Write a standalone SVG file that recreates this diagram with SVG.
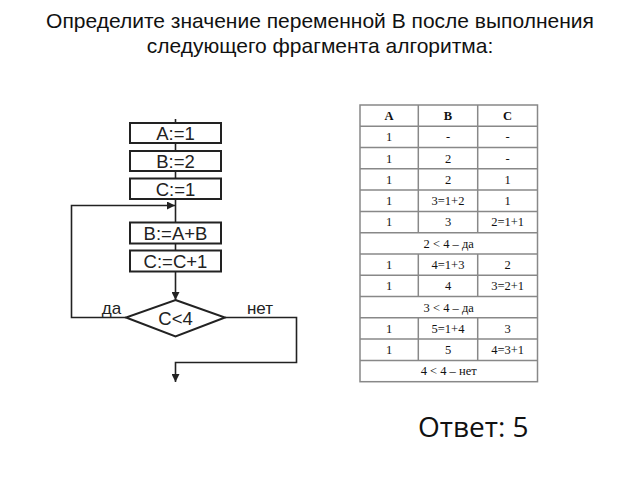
<svg xmlns="http://www.w3.org/2000/svg" width="640" height="480" viewBox="0 0 640 480">
<style>
.title{font-family:"Liberation Sans",Arial,sans-serif;font-size:21px;fill:#111;text-anchor:middle}
.box{fill:#fff;stroke:#222;stroke-width:2}
.ft{font-family:"Liberation Sans",Arial,sans-serif;font-size:18.5px;fill:#222;text-anchor:middle}
.ln{fill:none;stroke:#222;stroke-width:1.6}
.tb{stroke:#888;stroke-width:1.5;fill:none}
.tt{font-family:"Liberation Serif","Times New Roman",serif;font-size:12.5px;fill:#111;text-anchor:middle}
.th{font-weight:bold}
.ans{font-family:"Open Sans","Liberation Sans",sans-serif;font-size:28px;fill:#111}
</style>
<defs>
<marker id="ah" markerWidth="8" markerHeight="8" refX="8" refY="4" orient="auto" markerUnits="userSpaceOnUse">
<path d="M0,0 L8,4 L0,8 Z" fill="#222"/>
</marker>
</defs>
<rect width="640" height="480" fill="#fff"/>
<text class="title" x="320" y="28">Определите значение переменной В после выполнения</text>
<text class="title" x="320" y="53">следующего фрагмента алгоритма:</text>

<g id="connectors">
<line class="ln" x1="175.5" y1="119" x2="175.5" y2="123"/>
<line class="ln" x1="175.5" y1="143" x2="175.5" y2="151"/>
<line class="ln" x1="175.5" y1="171" x2="175.5" y2="178"/>
<line class="ln" x1="175.5" y1="199" x2="175.5" y2="222"/>
<line class="ln" x1="175.5" y1="243" x2="175.5" y2="250"/>
<line class="ln" x1="175.5" y1="272" x2="175.5" y2="300" marker-end="url(#ah)"/>
<polyline class="ln" points="126,317.5 71.5,317.5 71.5,205.5 175,205.5" marker-end="url(#ah)"/>
<polyline class="ln" points="225,317.5 296.5,317.5 296.5,362.5 175.5,362.5 175.5,382" marker-end="url(#ah)"/>
<text class="ft" x="111.5" y="314" style="font-size:17px">да</text>
<text class="ft" x="260" y="314" style="font-size:17px">нет</text>
</g>
<g id="n1"><rect class="box" x="130" y="123" width="91" height="20"/><text class="ft" x="175.5" y="140">A:=1</text></g>
<g id="n2"><rect class="box" x="130" y="151" width="91" height="20"/><text class="ft" x="175.5" y="168">B:=2</text></g>
<g id="n3"><rect class="box" x="130" y="178.5" width="91" height="20.5"/><text class="ft" x="175.5" y="195.5">C:=1</text></g>
<g id="n4"><rect class="box" x="130" y="222.5" width="91" height="21"/><text class="ft" x="175.5" y="240">B:=A+B</text></g>
<g id="n5"><rect class="box" x="130" y="250.5" width="91" height="21"/><text class="ft" x="175.5" y="268">C:=C+1</text></g>
<g id="n6"><polygon class="box" points="175.5,300 225,317.5 175.5,336.5 126,317.5"/><text class="ft" x="175.5" y="324.5">C&lt;4</text></g>

<g id="table">
<rect class="tb" x="360" y="105" width="177.5" height="276.7"/>
<g class="tb">
<line x1="360" y1="126.3" x2="537.5" y2="126.3"/>
<line x1="360" y1="147.6" x2="537.5" y2="147.6"/>
<line x1="360" y1="168.8" x2="537.5" y2="168.8"/>
<line x1="360" y1="190.1" x2="537.5" y2="190.1"/>
<line x1="360" y1="211.4" x2="537.5" y2="211.4"/>
<line x1="360" y1="232.7" x2="537.5" y2="232.7"/>
<line x1="360" y1="254" x2="537.5" y2="254"/>
<line x1="360" y1="275.2" x2="537.5" y2="275.2"/>
<line x1="360" y1="296.5" x2="537.5" y2="296.5"/>
<line x1="360" y1="317.8" x2="537.5" y2="317.8"/>
<line x1="360" y1="339.1" x2="537.5" y2="339.1"/>
<line x1="360" y1="360.4" x2="537.5" y2="360.4"/>
<line x1="418.3" y1="105" x2="418.3" y2="232.7"/>
<line x1="477.7" y1="105" x2="477.7" y2="232.7"/>
<line x1="418.3" y1="254" x2="418.3" y2="296.5"/>
<line x1="477.7" y1="254" x2="477.7" y2="296.5"/>
<line x1="418.3" y1="317.8" x2="418.3" y2="360.4"/>
<line x1="477.7" y1="317.8" x2="477.7" y2="360.4"/>
</g>
<g class="tt">
<text class="th" x="389" y="120">A</text><text class="th" x="448" y="120">B</text><text class="th" x="507.6" y="120">C</text>
<text x="389" y="141.3">1</text><text x="448" y="141.3">-</text><text x="507.6" y="141.3">-</text>
<text x="389" y="162.5">1</text><text x="448" y="162.5">2</text><text x="507.6" y="162.5">-</text>
<text x="389" y="183.8">1</text><text x="448" y="183.8">2</text><text x="507.6" y="183.8">1</text>
<text x="389" y="205.1">1</text><text x="448" y="205.1">3=1+2</text><text x="507.6" y="205.1">1</text>
<text x="389" y="226.4">1</text><text x="448" y="226.4">3</text><text x="507.6" y="226.4">2=1+1</text>
<text x="448.7" y="247.7">2 &lt; 4 – да</text>
<text x="389" y="268.9">1</text><text x="448" y="268.9">4=1+3</text><text x="507.6" y="268.9">2</text>
<text x="389" y="290.2">1</text><text x="448" y="290.2">4</text><text x="507.6" y="290.2">3=2+1</text>
<text x="448.7" y="311.5">3 &lt; 4 – да</text>
<text x="389" y="332.8">1</text><text x="448" y="332.8">5=1+4</text><text x="507.6" y="332.8">3</text>
<text x="389" y="354.1">1</text><text x="448" y="354.1">5</text><text x="507.6" y="354.1">4=3+1</text>
<text x="448.7" y="375.4">4 &lt; 4 – нет</text>
</g>
</g>
<text class="ans" x="418" y="437">Ответ: 5</text>
</svg>
